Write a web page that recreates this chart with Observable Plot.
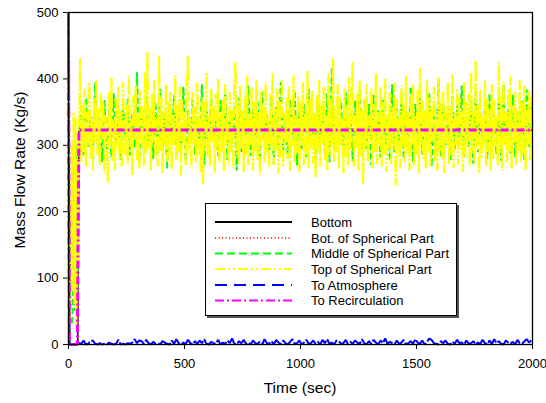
<!DOCTYPE html>
<html><head><meta charset="utf-8">
<script src="https://cdn.jsdelivr.net/npm/d3@7"></script>
<script src="https://cdn.jsdelivr.net/npm/@observablehq/plot@0.6"></script>
<style>
body{margin:0;background:#fff;}
#chart{width:546px;height:403px;}
</style></head><body><div id="chart"></div>
<script>
// ---------- data ----------
const timeTicks = [0, 500, 1000, 1500, 2000];
const flowTicks = [0, 100, 200, 300, 400, 500];
const seriesNames = ["Bottom", "Bot. of Spherical Part", "Middle of Spherical Part",
  "Top of Spherical Part", "To Atmosphere", "To Recirculation"];
const xLabel = "Time (sec)";
const yLabel = "Mass Flow Rate (Kg/s)";

// Bottom
const bottomTime = [0, 4, 40, 45, 145, 345, 545, 745, 945, 1145, 1345, 1545, 1745, 1945, 2000];
const bottomFlow = [500, 0, 0, 322, 324, 321, 325, 322, 323, 320, 324, 322, 325, 321, 323];
// Bot. of Spherical Part
const botSphTime = [0, 4, 40, 45, 245, 445, 645, 845, 1045, 1245, 1445, 1645, 1845, 2000];
const botSphFlow = [500, 0, 0, 320, 323, 326, 321, 324, 322, 325, 320, 323, 324, 322];

// Middle of Spherical Part: start-up, then samples every 10 s from 45 s
const midStartTime = [0, 3, 9, 15, 21, 27, 33, 39];
const midStartFlow = [500, 0, 150, 30, 260, 50, 300, 80];
const midTimeStart = 45, midTimeStep = 10;
const midFlow = [
 310,362,285,372,298,345,280,395,305,340,275,368,290,355,282,378,300,338,278,360,
 312,370,285,348,296,410,272,358,290,375,305,342,280,365,288,385,298,350,265,362,
 302,375,282,345,292,388,276,352,306,370,285,340,298,392,270,360,290,378,308,348,
 284,368,296,385,278,352,302,362,262,372,290,342,310,390,284,355,296,366,276,380,
 304,346,286,374,272,358,300,395,290,340,280,368,306,382,270,352,294,362,282,386,
 298,348,278,370,304,360,286,378,274,417,292,344,308,366,282,380,296,352,276,368,
 302,385,286,346,294,362,270,376,306,354,282,368,298,342,278,392,290,360,304,372,
 280,350,296,388,275,362,302,372,286,344,308,378,268,356,292,400,284,366,300,348,
 278,374,294,360,304,390,282,342,298,368,272,382,290,352,308,364,280,378,296,346,
 286,372,276,392,302,356,288,376,282,350,306,368,278,384,296,358];

// Top of Spherical Part: start-up, then samples every 5 s from 45 s
const topStartTime = [0, 2, 6, 10, 14, 18, 22, 26, 30, 34, 38, 42];
const topStartFlow = [500, 0, 220, 40, 300, 80, 350, 60, 340, 30, 280, 120];
const topTimeStart = 45, topTimeStep = 5;
const topFlow = [
 300,431,275,360,290,385,268,350,300,395,280,340,262,372,305,398,285,355,270,378,
 310,365,258,345,290,244,380,300,402,275,338,262,370,295,388,280,352,268,395,305,
 285,362,272,405,298,340,255,375,310,390,278,348,265,383,300,360,270,410,288,440,
 295,355,262,378,305,398,280,345,268,435,290,372,258,350,300,392,275,365,285,380,
 262,345,300,405,278,360,290,388,255,370,305,352,270,398,435,288,340,265,380,300,
 358,275,395,285,348,260,372,242,365,298,410,280,345,268,385,305,360,258,378,292,
 400,275,350,290,368,262,392,300,345,270,380,288,355,265,402,425,285,360,272,390,
 298,352,260,375,285,405,270,345,300,388,262,365,290,398,278,350,255,382,305,360,
 275,395,288,342,265,378,300,410,270,355,292,385,258,368,282,400,268,348,305,372,
 280,390,262,358,298,405,275,345,288,378,260,365,300,395,270,352,285,412,265,370,
 295,382,272,348,251,375,290,398,268,360,302,388,278,345,262,408,285,370,298,431,
 275,355,290,392,265,372,300,345,258,385,282,360,270,402,292,380,425,268,350,295,
 378,262,398,285,355,242,370,298,392,275,345,305,385,265,362,290,408,272,350,300,
 388,268,365,285,400,260,348,295,380,272,358,302,395,239,370,282,345,265,390,298,
 362,275,405,288,350,262,378,300,392,270,345,285,385,258,416,295,368,278,352,265,
 398,290,372,268,355,305,388,275,345,262,402,292,365,280,382,258,350,298,395,272,
 360,285,408,265,348,300,385,270,372,292,352,260,395,282,365,305,378,268,410,288,
 350,272,428,295,362,258,385,280,345,300,398,268,370,290,355,262,392,278,368,300,
 345,270,425,288,372,262,395,298,350,275,385,290,405,265,360,302,380,270,352,292,
 398,275,365,285,390,262,358,300,382,278,372,330];

// To Atmosphere: start-up, then samples every 10 s from 45 s
const atmStartTime = [0, 4, 40];
const atmStartFlow = [500, 0, 0];
const atmTimeStart = 45, atmTimeStep = 10;
const atmFlow = [
 2,1,6,0,1,5,6,1,0,2,0,1,0,3,1,0,1,7,0,1,
 0,2,1,3,8,2,6,5,1,7,2,0,4,1,2,0,5,3,1,0,
 6,1,8,2,0,3,1,7,2,0,5,1,6,2,8,1,0,4,2,1,
 7,0,3,1,6,2,9,1,0,5,2,7,1,3,0,6,2,1,4,0,
 8,2,1,5,0,7,3,1,6,2,0,4,8,1,2,6,0,3,7,1,
 2,6,1,4,0,7,2,8,1,3,0,6,5,1,2,7,0,4,1,6,
 3,1,8,2,0,5,1,7,3,0,6,2,9,1,4,2,0,6,1,3,
 7,0,2,5,1,8,3,1,6,0,4,9,7,2,1,0,5,2,6,1,
 0,4,1,7,2,3,0,6,1,2,5,0,3,1,7,2,0,6,1,8,
 2,5,1,0,6,3,1,4,0,7,2,1,5,8,3,6];

// To Recirculation
const recTime = [0, 4, 38, 45, 2000];
const recFlow = [500, 0, 0, 323, 323];

// ---------- build tables ----------
function pairs(times, flows) { return times.map((t, i) => ({t, v: flows[i]})); }
function sampled(start, step, flows) { return flows.map((v, i) => ({t: start + step * i, v})); }

const bottomData = pairs(bottomTime, bottomFlow);
const botSphData = pairs(botSphTime, botSphFlow);
const midData = pairs(midStartTime, midStartFlow).concat(sampled(midTimeStart, midTimeStep, midFlow));
const topData = pairs(topStartTime, topStartFlow).concat(sampled(topTimeStart, topTimeStep, topFlow));
const atmData = pairs(atmStartTime, atmStartFlow).concat(sampled(atmTimeStart, atmTimeStep, atmFlow));
const recData = pairs(recTime, recFlow);

const styles = [
  {stroke: "#000000", strokeWidth: 1.5, dash: null, legendDash: null},
  {stroke: "#ff3030", strokeWidth: 1.2, dash: "1,2.5", legendDash: "1,2.5"},
  {stroke: "#00ff00", strokeWidth: 2, dash: "6,3", legendDash: "8,4"},
  {stroke: "#ffff00", strokeWidth: 2.3, dash: "12,2,2,2,2,2", legendDash: "10,3,2,3,2,3"},
  {stroke: "#0000ff", strokeWidth: 2, dash: "16,2", legendDash: "12,7"},
  {stroke: "#ff00ff", strokeWidth: 3, dash: "8,3,2,3", legendDash: "9,3,2,3"}
];
const datasets = [bottomData, botSphData, midData, topData, atmData, recData];

const lineMarks = datasets.map((d, i) => Plot.line(d, {
  x: "t", y: "v", stroke: styles[i].stroke, strokeWidth: styles[i].strokeWidth,
  strokeDasharray: styles[i].dash || undefined, strokeLinejoin: "miter", strokeLinecap: "butt"
}));

const font = "Arial, 'Liberation Sans', sans-serif";
const svg = Plot.plot({
  width: 546, height: 403,
  marginLeft: 68, marginRight: 14, marginTop: 12, marginBottom: 59,
  style: {fontFamily: font, fontSize: "13px", background: "#fff", color: "#000"},
  x: {domain: [0, 2000], ticks: timeTicks, tickSize: 5, tickPadding: 9, tickFormat: d => String(d), label: null},
  y: {domain: [0, 500], ticks: flowTicks, tickSize: 5, tickPadding: 5, tickFormat: d => String(d), label: null},
  marks: [
    ...lineMarks,
    Plot.frame({stroke: "#000", strokeWidth: 1.3})
  ]
});
document.getElementById("chart").appendChild(svg);

const s = d3.select(svg);
s.append("text").attr("x", 300).attr("y", 393).attr("text-anchor", "middle")
  .attr("font-family", font).attr("font-size", 15.5).attr("fill", "#000").text(xLabel);
s.append("text").attr("transform", "translate(25,170) rotate(-90)").attr("text-anchor", "middle")
  .attr("font-family", font).attr("font-size", 15.5).attr("fill", "#000").text(yLabel);

// legend
const lg = s.append("g").attr("font-family", font);
lg.append("rect").attr("x", 207).attr("y", 205).attr("width", 252).attr("height", 113).attr("fill", "#555");
lg.append("rect").attr("x", 205.5).attr("y", 203.5).attr("width", 251).attr("height", 112)
  .attr("fill", "#fff").attr("stroke", "#000").attr("stroke-width", 1);
const rowY = [222, 238, 253.5, 269, 285, 300.5];
seriesNames.forEach((name, i) => {
  lg.append("line").attr("x1", 215).attr("x2", 292).attr("y1", rowY[i]).attr("y2", rowY[i])
    .attr("stroke", styles[i].stroke).attr("stroke-width", i === 0 ? 2 : 1.8)
    .attr("stroke-dasharray", styles[i].legendDash);
  lg.append("text").attr("x", 311).attr("y", rowY[i]).attr("dy", "0.35em")
    .attr("text-anchor", "start").attr("font-size", 13).attr("fill", "#000").text(name);
});
</script>
</body></html>
